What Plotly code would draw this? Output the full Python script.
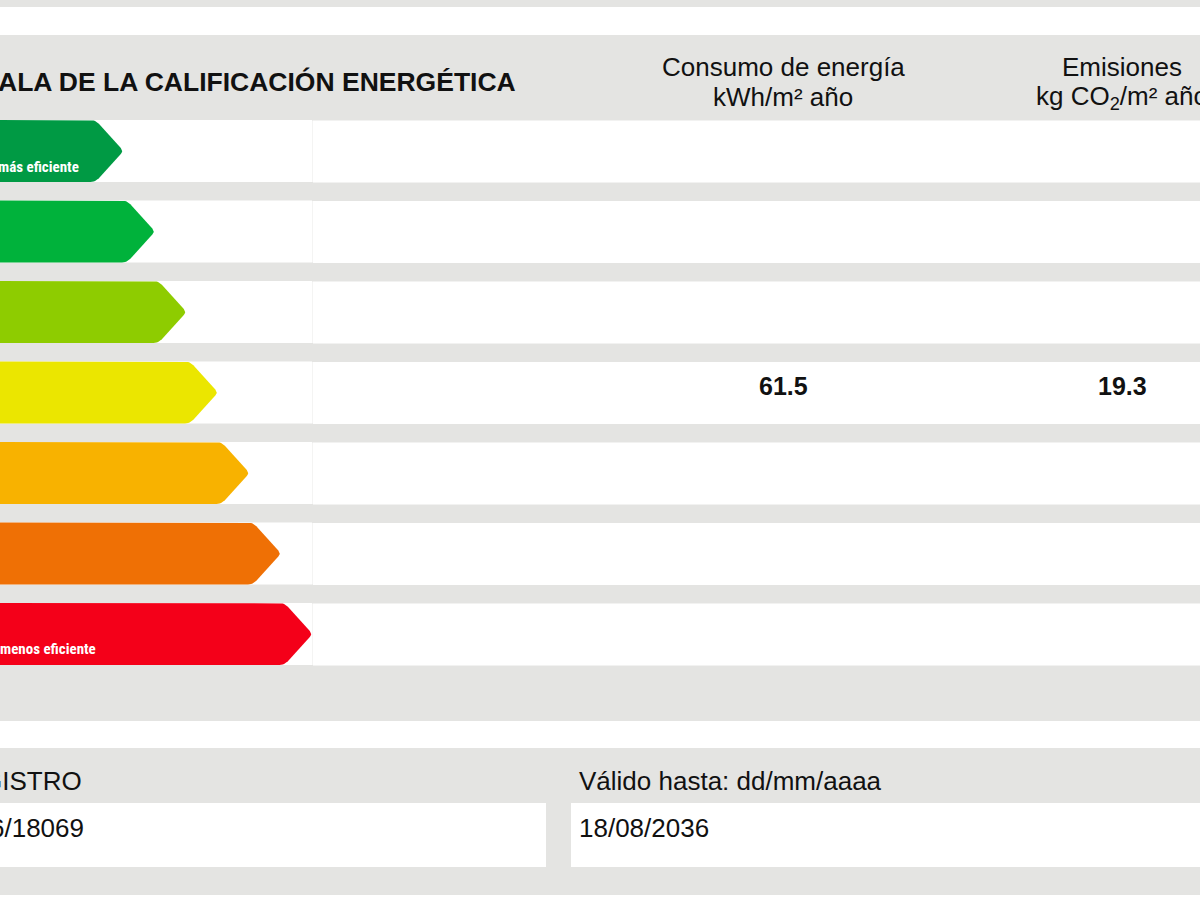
import math
import plotly.graph_objects as go

# ---------------- data ----------------
grades = ["A", "B", "C", "D", "E", "F", "G"]
scale_top_label = "más eficiente"
scale_bottom_label = "menos eficiente"
rated_grade_consumo = "D"
rated_grade_emisiones = "D"
consumo_value = 61.5
emisiones_value = 19.3
title_text = "ALA DE LA CALIFICACIÓN ENERGÉTICA"
col1_header = ["Consumo de energía", "kWh/m² año"]
col2_header = ["Emisiones", "kg CO<sub>2</sub>/m² año"]
registro_label = "GISTRO"
registro_value = "6/18069"
valido_label = "Válido hasta: dd/mm/aaaa"
valido_value = "18/08/2036"

# ---------------- style ----------------
grade_colors = ["#009a44", "#00b23b", "#8ecc00", "#ebe600", "#f8b200", "#ef7005", "#f40019"]
GRAY = "#e4e4e2"
WHITE = "#ffffff"
DIVIDER = "#f4f4f3"
FONT = "Liberation Sans, Arial, sans-serif"
LABEL_FONT = "Roboto Condensed, Roboto, Liberation Sans, sans-serif"
W, H = 1200, 900

ROW0 = 120.0
ROW_STEP = 80.5
ROW_H = 62.0
TIP0 = 123.5
TIP_STEP = 31.5
POINT_DEPTH = 28.0
COL1_X = 783
COL2_X = 1122


def rounded_polygon(pts, radii, n=6):
    xs, ys = [], []
    m = len(pts)
    for i in range(m):
        p = pts[i]
        r = radii[i]
        if r <= 0:
            xs.append(p[0]); ys.append(p[1])
            continue
        a = pts[i - 1]
        b = pts[(i + 1) % m]
        v1 = (a[0] - p[0], a[1] - p[1])
        v2 = (b[0] - p[0], b[1] - p[1])
        l1 = math.hypot(*v1); l2 = math.hypot(*v2)
        u1 = (v1[0] / l1, v1[1] / l1)
        u2 = (v2[0] / l2, v2[1] / l2)
        s = (p[0] + u1[0] * r, p[1] + u1[1] * r)
        e = (p[0] + u2[0] * r, p[1] + u2[1] * r)
        for k in range(n + 1):
            t = k / n
            x = (1 - t) ** 2 * s[0] + 2 * (1 - t) * t * p[0] + t ** 2 * e[0]
            y = (1 - t) ** 2 * s[1] + 2 * (1 - t) * t * p[1] + t ** 2 * e[1]
            xs.append(x); ys.append(y)
    xs.append(xs[0]); ys.append(ys[0])
    return xs, ys


fig = go.Figure()
shapes = []


def rect(x0, y0, x1, y1, color):
    shapes.append(dict(type="rect", xref="x", yref="y", x0=x0, y0=y0, x1=x1, y1=y1,
                       fillcolor=color, line=dict(width=0), layer="below"))


# white bands
rect(0, 7, W, 35, WHITE)
for i, g in enumerate(grades):
    top = ROW0 + i * ROW_STEP
    rect(0, top, 312, top + ROW_H, WHITE)
    rect(312, top + 0.5, 313, top + ROW_H, DIVIDER)
    rect(313, top + 0.5, W, top + ROW_H + 0.5, WHITE)
rect(0, 721, W, 748, WHITE)
rect(0, 803, 546, 867, WHITE)
rect(571, 803, W, 867, WHITE)
rect(0, 895, W, H, WHITE)

# arrows
for i, g in enumerate(grades):
    top = ROW0 + i * ROW_STEP
    bot = top + ROW_H
    mid = (top + bot) / 2
    tip = TIP0 + i * TIP_STEP
    pts = [(-20, top), (tip - POINT_DEPTH, top), (tip, mid), (tip - POINT_DEPTH, bot), (-20, bot)]
    xs, ys = rounded_polygon(pts, [0, 5, 4, 5, 0])
    fig.add_trace(go.Scatter(x=xs, y=ys, mode="lines", fill="toself",
                             fillcolor=grade_colors[i], line=dict(width=0, color=grade_colors[i]),
                             hoverinfo="skip", showlegend=False, name=g))

annotations = []


def text(x, y, s, size, color="#111111", bold=False, xanchor="center", family=FONT):
    annotations.append(dict(x=x, y=y, xref="x", yref="y", text=("<b>%s</b>" % s) if bold else s,
                            showarrow=False, xanchor=xanchor, yanchor="middle",
                            font=dict(size=size, color=color, family=family)))


# scale labels inside arrows
text(81, ROW0 + 47, scale_top_label, 15, color="white", bold=True, xanchor="right", family=LABEL_FONT)
text(98, ROW0 + 6 * ROW_STEP + 46, scale_bottom_label, 15, color="white", bold=True, xanchor="right",
     family=LABEL_FONT)

# header
text(518, 82, title_text, 26.5, bold=True, xanchor="right")
text(COL1_X, 67, col1_header[0], 26)
text(COL1_X, 97, col1_header[1], 26)
text(COL2_X, 67, col2_header[0], 26)
text(COL2_X, 97, col2_header[1], 26)

# values
iy = grades.index(rated_grade_consumo)
text(COL1_X, ROW0 + iy * ROW_STEP + 24, "%.1f" % consumo_value, 25, bold=True)
iy2 = grades.index(rated_grade_emisiones)
text(COL2_X, ROW0 + iy2 * ROW_STEP + 24, "%.1f" % emisiones_value, 25, bold=True)

# bottom
text(84, 781, registro_label, 26, xanchor="right")
text(86, 828, registro_value, 26, xanchor="right")
text(577, 781, valido_label, 26, xanchor="left")
text(577, 828, valido_value, 26, xanchor="left")

fig.update_layout(
    width=W, height=H,
    margin=dict(l=0, r=0, t=0, b=0, pad=0),
    paper_bgcolor=GRAY, plot_bgcolor=GRAY,
    xaxis=dict(range=[0, W], visible=False, fixedrange=True),
    yaxis=dict(range=[H, 0], visible=False, fixedrange=True),
    shapes=shapes,
    annotations=annotations,
    showlegend=False,
)

fig.write_html("out.html", config={"displayModeBar": False},
               post_script="document.body.style.margin='0';document.body.style.overflow='hidden';")
